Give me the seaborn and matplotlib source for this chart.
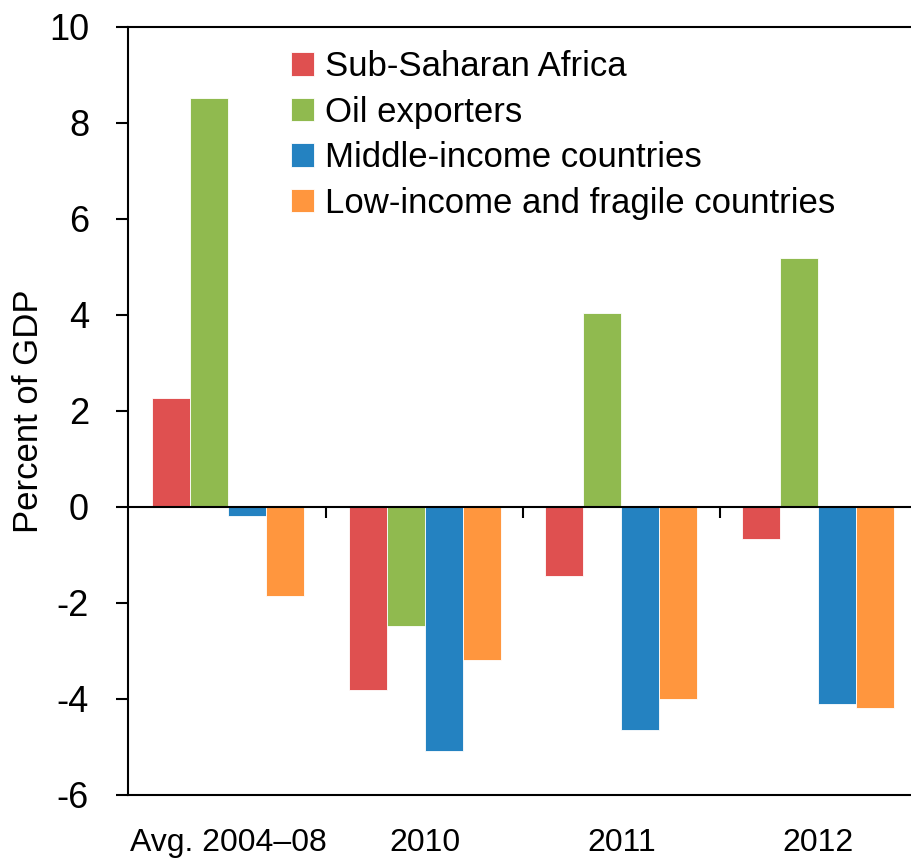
import matplotlib
matplotlib.use("Agg")
import matplotlib.pyplot as plt
import seaborn as sns
import pandas as pd

sns.set_style("white")
plt.rcParams["font.family"] = ["Liberation Sans", "DejaVu Sans"]
plt.rcParams["axes.unicode_minus"] = False
plt.rcParams["text.color"] = "black"
plt.rcParams["axes.labelcolor"] = "black"
plt.rcParams["xtick.color"] = "black"
plt.rcParams["ytick.color"] = "black"

periods = ["Avg. 2004–08", "2010", "2011", "2012"]
groups = ["Sub-Saharan Africa", "Oil exporters", "Middle-income countries",
          "Low-income and fragile countries"]
ssa = [2.27, -3.81, -1.44, -0.67]
oil = [8.52, -2.48, 4.04, 5.19]
mic = [-0.19, -5.08, -4.65, -4.10]
lic = [-1.85, -3.19, -4.00, -4.19]
colors = ["#DF5050", "#90BA4F", "#2482C1", "#FF963E"]

rows = []
for name, vals in zip(groups, [ssa, oil, mic, lic]):
    for p, v in zip(periods, vals):
        rows.append({"period": p, "group": name, "value": v})
df = pd.DataFrame(rows)

fig = plt.figure(figsize=(9.12, 8.59), dpi=100)
ax = fig.add_axes([128 / 912, 1 - 795 / 859, 784 / 912, 768 / 859])

sns.barplot(data=df, x="period", y="value", hue="group", order=periods,
            hue_order=groups, palette=colors, saturation=1, width=0.773,
            gap=0, edgecolor="white", linewidth=0.6, ax=ax)

ax.set_xlim(-0.508, 3.477)
ax.set_ylim(-6, 10)
ax.set_yticks(range(-6, 11, 2))
ax.axhline(0, color="black", lw=1.5, zorder=3)
ax.vlines([0.5, 1.5, 2.5], -0.22, 0, color="black", lw=1.5, zorder=3)

for s in ["left", "top", "bottom"]:
    ax.spines[s].set_color("black")
    ax.spines[s].set_linewidth(1.5)
ax.spines["right"].set_visible(False)

ax.tick_params(axis="y", direction="out", length=9, width=1.5, pad=19,
               labelsize=26, left=True)
ax.tick_params(axis="x", length=0, pad=24, labelsize=23)
ax.set_xlabel("")
ax.set_ylabel("Percent of GDP", fontsize=25, labelpad=3)

ax.legend(loc="upper left", bbox_to_anchor=(0.19, 0.988), frameon=False,
          fontsize=25, handlelength=0.68, handleheight=0.68,
          handletextpad=0.3, labelspacing=0.36, borderaxespad=0)

fig.savefig("out.png", dpi=100)
